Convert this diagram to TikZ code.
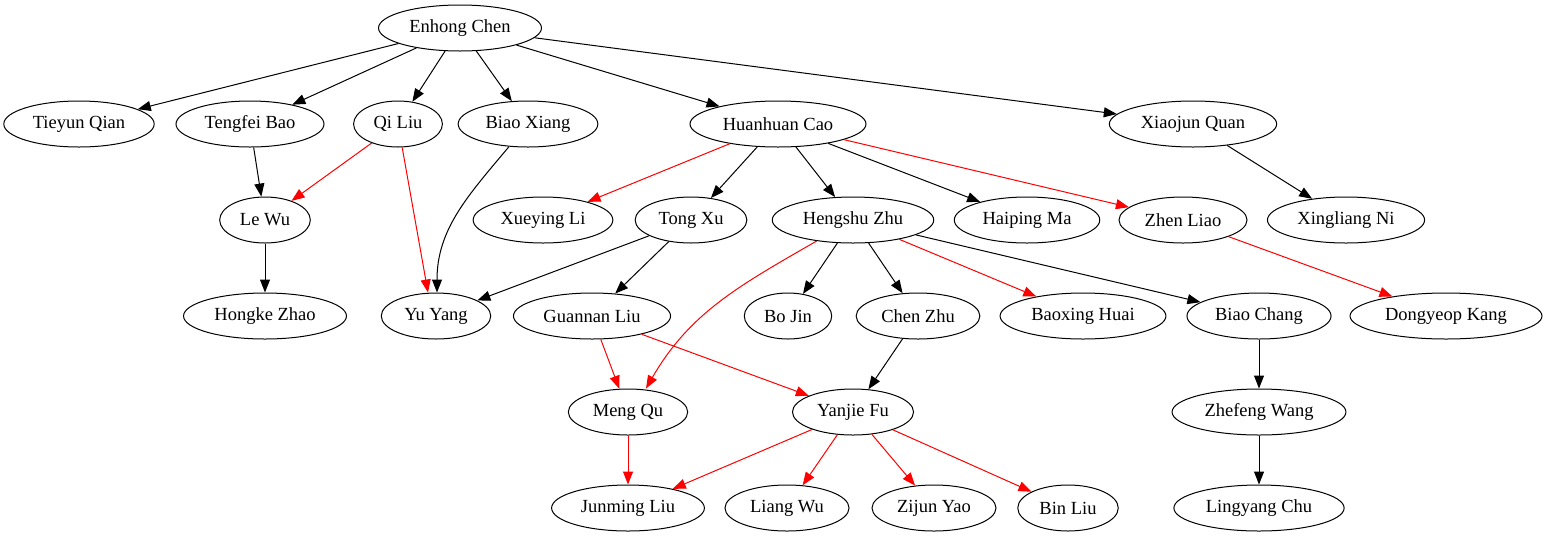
\documentclass[tikz,border=0pt]{standalone}
\usepackage{fontspec}
\setmainfont{Liberation Serif}
\usetikzlibrary{arrows.meta,shapes.geometric}

\begin{document}
\begin{tikzpicture}[x=1pt,y=-1pt,>={Triangle[length=13pt,width=10pt]},
    person/.style={ellipse,draw,line width=1pt,minimum height=46pt,inner xsep=7pt,
      font=\fontsize{18.5}{20}\selectfont},
    tie/.style={->,line width=1pt},
    hot/.style={->,line width=1pt,red}]
    \useasboundingbox (0,0) rectangle (1546,539);

    % row 0
    \node[person] (EC) at (460,28)  {Enhong Chen};
    % row 1
    \node[person] (TQ) at (79,124)   {Tieyun Qian};
    \node[person] (TB) at (250,124)  {Tengfei Bao};
    \node[person] (QL) at (398,124)  {Qi Liu};
    \node[person] (BX) at (528,124)  {Biao Xiang};
    \node[person] (HC) at (778,124)  {Huanhuan Cao};
    \node[person] (XQ) at (1193,124) {Xiaojun Quan};
    % row 2
    \node[person] (LW) at (265,220)  {Le Wu};
    \node[person] (XL) at (543,220)  {Xueying Li};
    \node[person] (TX) at (691,220)  {Tong Xu};
    \node[person] (HZ) at (853,220)  {Hengshu Zhu};
    \node[person] (HM) at (1027,220) {Haiping Ma};
    \node[person] (ZL) at (1183,220) {Zhen Liao};
    \node[person] (XN) at (1346,220) {Xingliang Ni};
    % row 3
    \node[person] (KZ) at (265,316)  {Hongke Zhao};
    \node[person] (YY) at (436,316)  {Yu Yang};
    \node[person] (GL) at (592,316)  {Guannan Liu};
    \node[person] (BJ) at (788,316)  {Bo Jin};
    \node[person] (CZ) at (918,316)  {Chen Zhu};
    \node[person] (BH) at (1083,316) {Baoxing Huai};
    \node[person] (BC) at (1259,316) {Biao Chang};
    \node[person] (DK) at (1446,316) {Dongyeop Kang};
    % row 4
    \node[person] (MQ) at (628,412)  {Meng Qu};
    \node[person] (YF) at (853,412)  {Yanjie Fu};
    \node[person] (ZW) at (1259,412) {Zhefeng Wang};
    % row 5
    \node[person] (JL) at (628,508)  {Junming Liu};
    \node[person] (LG) at (787,508)  {Liang Wu};
    \node[person] (ZY) at (934,508)  {Zijun Yao};
    \node[person] (BL) at (1068,508) {Bin Liu};
    \node[person] (LC) at (1259,508) {Lingyang Chu};

    \path[tie] (EC) edge (TQ) edge (TB) edge (QL) edge (BX) edge (HC) edge (XQ);
    \path[tie] (TB) edge (LW);
    \path[hot] (QL) edge (LW);
    \path[hot] (QL) edge ([xshift=-8pt]YY.north);
    \path[tie] (BX) edge[out=-130,in=90] ([xshift=1pt]YY.north);
    \path[tie] (LW) edge (KZ);
    \path[hot] (HC) edge (XL) edge (ZL);
    \path[tie] (HC) edge (TX) edge (HZ) edge (HM);
    \path[tie] (XQ) edge (XN);
    \path[tie] (TX) edge (YY) edge (GL);
    \path[hot] (HZ) edge[out=-150,in=60] ([xshift=18pt]MQ.north);
    \path[tie] (HZ) edge (BJ) edge (CZ) edge (BC);
    \path[hot] (HZ) edge (BH);
    \path[hot] (ZL) edge (DK);
    \path[hot] (GL) edge (MQ) edge (YF);
    \path[tie] (CZ) edge (YF);
    \path[tie] (BC) edge (ZW);
    \path[tie] (ZW) edge (LC);
    \path[hot] (MQ) edge (JL);
    \path[hot] (YF) edge (JL) edge (LG) edge (ZY) edge (BL);
\end{tikzpicture}
\end{document}
